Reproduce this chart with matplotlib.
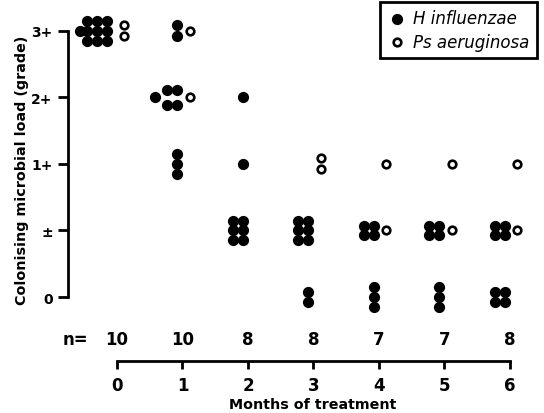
import numpy as np
import matplotlib.pyplot as plt

# ---- data ----
months = [0, 1, 2, 3, 4, 5, 6]
n_patients = [10, 10, 8, 8, 7, 7, 8]
grade_labels = ['0', '±', '1+', '2+', '3+']
# patients per grade (0, ±, 1+, 2+, 3+), one row per month
h_influenzae = [[0, 0, 0, 0, 10],
                [0, 0, 3, 5, 2],
                [0, 6, 1, 1, 0],
                [2, 6, 0, 0, 0],
                [3, 4, 0, 0, 0],
                [3, 4, 0, 0, 0],
                [4, 4, 0, 0, 0]]
ps_aeruginosa = [[0, 0, 0, 0, 2],
                 [0, 0, 0, 1, 1],
                 [0, 0, 0, 0, 0],
                 [0, 0, 2, 0, 0],
                 [0, 1, 1, 0, 0],
                 [0, 1, 1, 0, 0],
                 [0, 1, 1, 0, 0]]

DX, DY = 0.15, 0.15      # dot pitch in (months, grades)


def cluster(n):
    """(col, row) offsets for n dots stacked together; col 0 = right column"""
    if n == 1:
        return [(0, 0)]
    if n == 2:
        return [(0, 0.55), (0, -0.55)]
    if n == 3:
        return [(0, r - 1) for r in range(3)]
    if n in (4, 6):
        rows = n // 2
        return [(c, r - (rows - 1) / 2) for c in (0, -1) for r in range(rows)]
    if n == 5:
        return [(c, r) for c in (0, -1) for r in (-0.75, 0.75)] + [(-2.3, 0)]
    if n == 10:
        return [(c, r) for c in (-0.5, -1.5, -2.5) for r in (-1, 0, 1)] + [(-3.2, 0)]
    return [(-c, 0) for c in range(n)]


def dot_positions(counts, shift):
    xs, ys = [], []
    for m, row in zip(months, counts):
        for g, k in enumerate(row):
            for c, r in cluster(k):
                xs.append(m + shift + c * DX)
                ys.append(g + r * DY)
    return np.array(xs), np.array(ys)


plt.rcParams['font.family'] = 'DejaVu Sans'
plt.rcParams['font.weight'] = 'bold'
plt.rcParams['axes.labelweight'] = 'bold'

fig = plt.figure(figsize=(5.44, 4.14), dpi=100)
ax = fig.add_axes([68 / 544, 52 / 414, 472 / 544, 352 / 414])

hx, hy = dot_positions(h_influenzae, -0.08)
px, py = dot_positions(ps_aeruginosa, 0.11)
ax.scatter(hx, hy, s=65, color='black', linewidths=0, label='H influenzae', zorder=3)
ax.scatter(px, py, s=30, facecolor='white', edgecolor='black', linewidths=1.9,
           label='Ps aeruginosa', zorder=3)

ax.set_xlim(-0.748, 6.46)
ax.set_ylim(-0.962, 4.33)

for s in ('top', 'right'):
    ax.spines[s].set_visible(False)
ax.spines['left'].set_bounds(0, 4)
ax.spines['bottom'].set_bounds(0, 6)
ax.spines['left'].set_linewidth(2)
ax.spines['bottom'].set_linewidth(2)

ax.set_yticks(range(5))
ax.set_yticklabels(grade_labels, fontsize=10)
ax.set_xticks(months)
ax.set_xticklabels([str(m) for m in months], fontsize=12)
ax.tick_params(axis='y', length=7, width=2, pad=4)
ax.tick_params(axis='x', length=6, width=2, pad=5)

ax.text(-0.64, -0.63, 'n=', ha='center', va='center', fontsize=12)
for m, n in zip(months, n_patients):
    ax.text(m, -0.63, str(n), ha='center', va='center', fontsize=12)

ax.set_ylabel('Colonising microbial load (grade)', fontsize=10.3)
ax.yaxis.set_label_coords(-0.083, 0.545)
ax.set_xlabel('Months of treatment', fontsize=10.3, va='center')
ax.xaxis.set_label_coords(0.519, -0.122)

leg = fig.legend(loc='upper right', bbox_to_anchor=(537 / 544, 1 - 3 / 414),
                 borderaxespad=0, fancybox=False, framealpha=1, edgecolor='black',
                 prop={'style': 'italic', 'weight': 'normal', 'size': 12},
                 handletextpad=0.35, borderpad=0.45, labelspacing=0.3,
                 handlelength=1.2)
leg.get_frame().set_linewidth(2)

fig.savefig('out.png', dpi=100)
